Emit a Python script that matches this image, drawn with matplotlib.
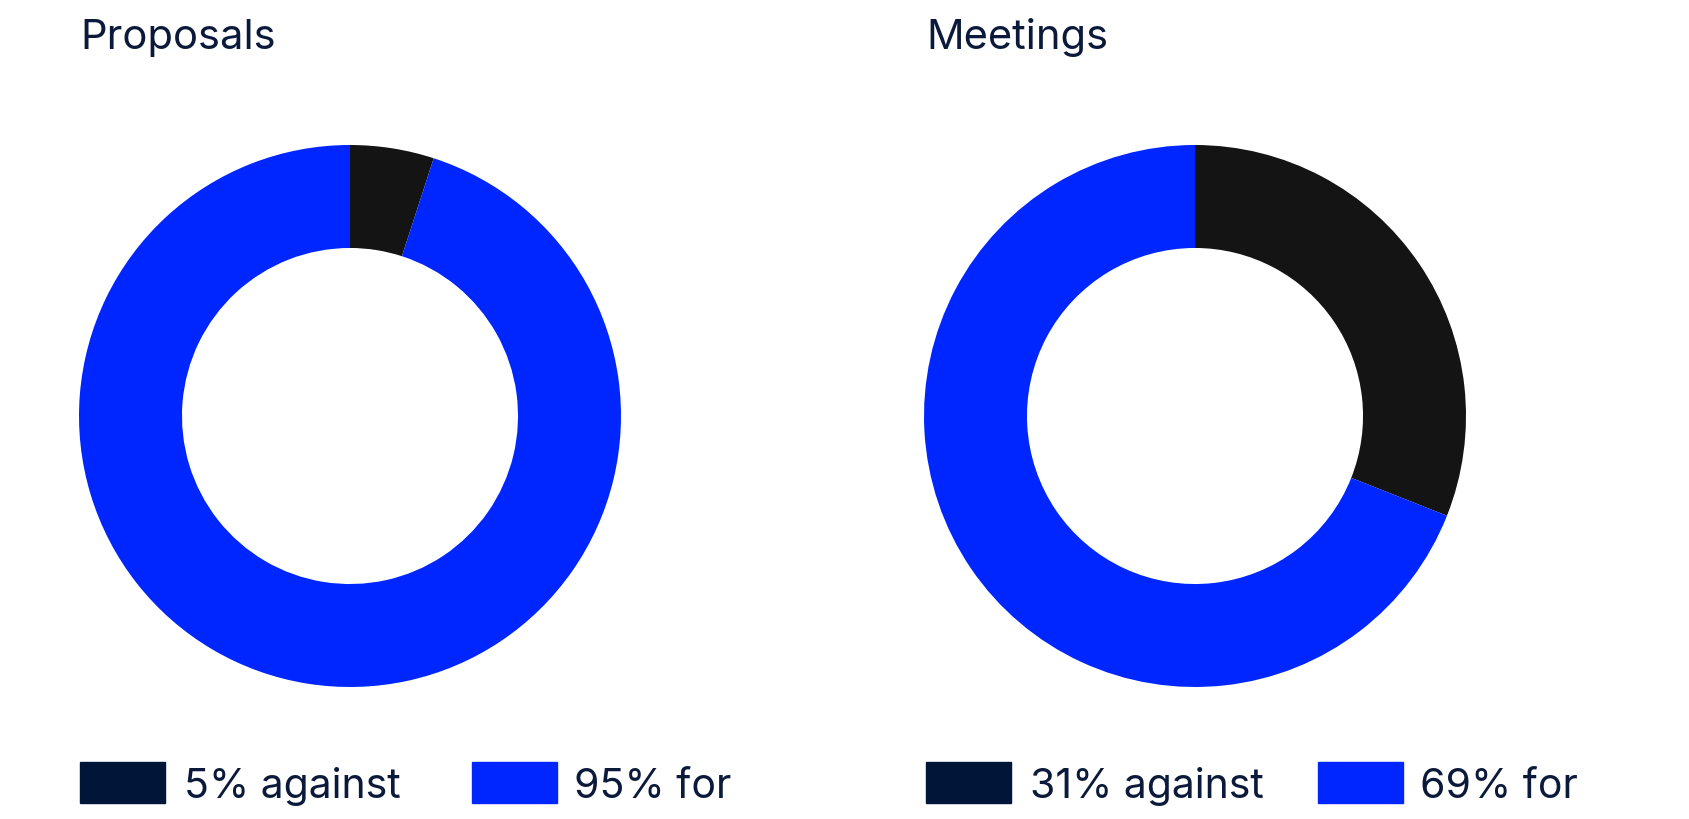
import matplotlib.pyplot as plt
from matplotlib.patches import Rectangle

plt.rcParams['font.family'] = ['Inter', 'DejaVu Sans']

# data
titles = ['Proposals', 'Meetings']
against = [5, 31]
for_votes = [95, 69]

dark_wedge = '#141414'
dark_legend = '#001638'
blue = '#0026ff'
text_col = '#0b1a3a'

W, H = 1690, 820
fig = plt.figure(figsize=(W / 100, H / 100), dpi=100)

def fx(px):
    return px / W

def fy(py):
    return 1 - py / H

centers_x = [350, 1195]
cy, R = 417, 271
title_x = [80, 926]

for i in range(2):
    cx = centers_x[i]
    ax = fig.add_axes([fx(cx - R), fy(cy + R), 2 * R / W, 2 * R / H])
    ax.pie([against[i], for_votes[i]], colors=[dark_wedge, blue], startangle=90,
           counterclock=False, radius=1, wedgeprops=dict(width=0.38, linewidth=0))
    ax.set_xlim(-1, 1)
    ax.set_ylim(-1, 1)
    ax.set_aspect('equal')
    ax.axis('off')

    # title
    fig.text(fx(title_x[i]), fy(49), titles[i], fontsize=30, color=text_col,
             ha='left', va='baseline')

    # legend
    x0 = title_x[i]
    fig.patches.append(Rectangle((fx(x0), fy(804)), 85 / W, 41 / H,
                                 transform=fig.transFigure, color=dark_legend))
    fig.text(fx(x0 + 104), fy(798), f'{against[i]}% against', fontsize=29.5,
             color=text_col, ha='left', va='baseline')
    x1 = x0 + 392
    fig.patches.append(Rectangle((fx(x1), fy(804)), 85 / W, 41 / H,
                                 transform=fig.transFigure, color=blue))
    fig.text(fx(x1 + 102), fy(798), f'{for_votes[i]}% for', fontsize=29.5,
             color=text_col, ha='left', va='baseline')

fig.savefig('out.png', dpi=100, facecolor='white')
